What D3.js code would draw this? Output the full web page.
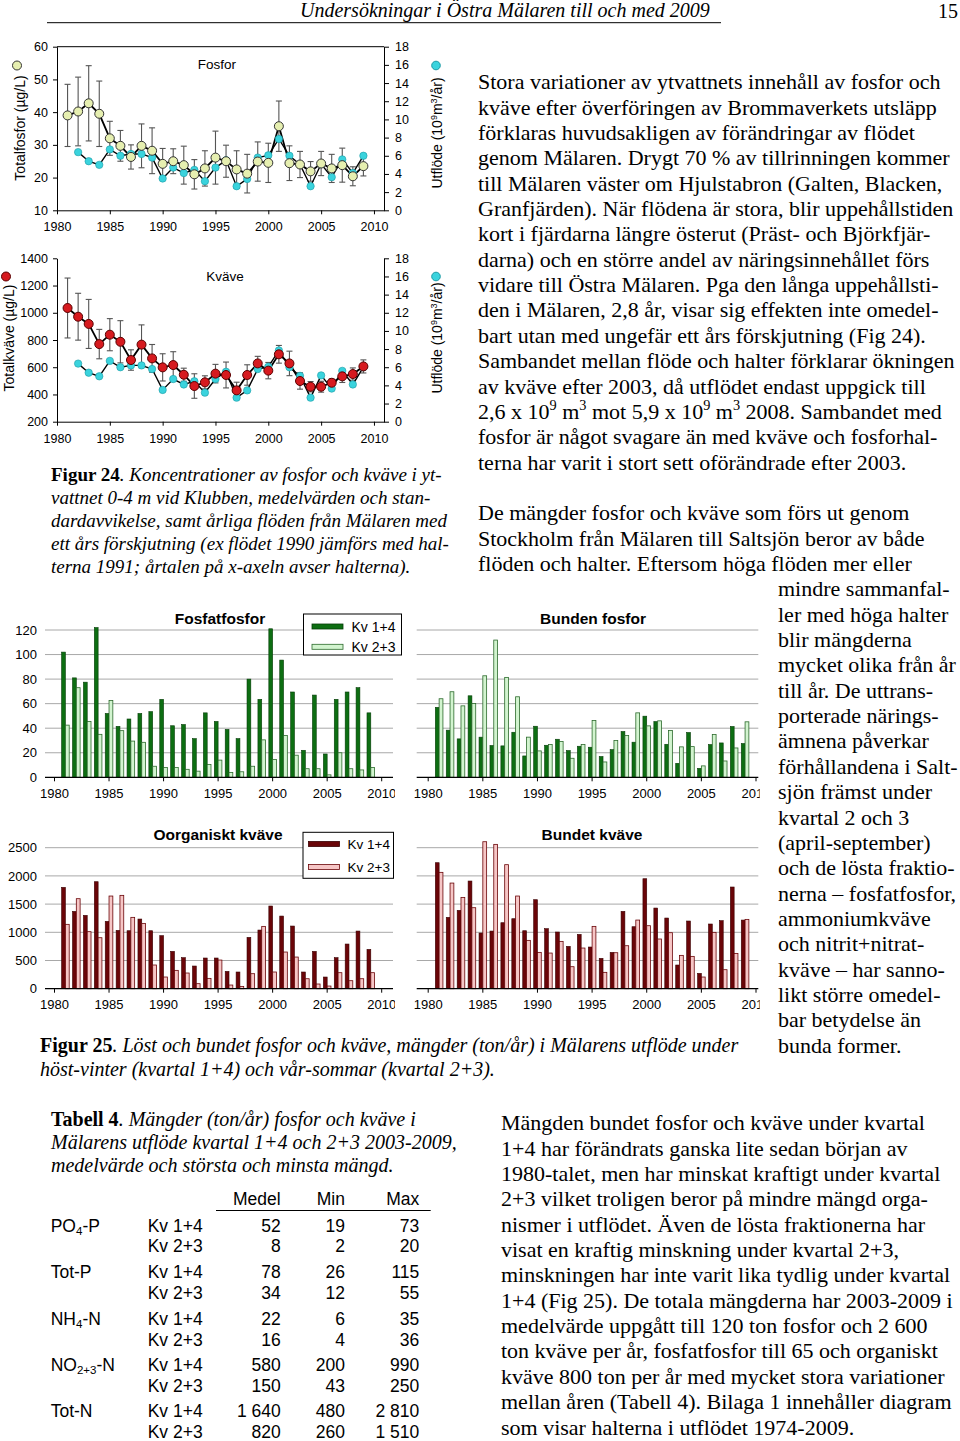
<!DOCTYPE html>
<html><head><meta charset="utf-8">
<script src="https://cdn.jsdelivr.net/npm/d3@7"></script>
<style>body{margin:0;background:#fff}svg{display:block}</style>
</head><body><svg id="c" width="960" height="1441"></svg>
<script>
// ---------------- DATA ----------------
const years = [1981,1982,1983,1984,1985,1986,1987,1988,1989,1990,1991,1992,1993,1994,1995,1996,1997,1998,1999,2000,2001,2002,2003,2004,2005,2006,2007,2008,2009];
const flowYears = [1982,1983,1984,1985,1986,1987,1988,1989,1990,1991,1992,1993,1994,1995,1996,1997,1998,1999,2000,2001,2002,2003,2004,2005,2006,2007,2008,2009];
const totP   = [39,40.2,42.7,39.5,32,29.7,26.3,29.7,28.2,24.2,25,23.8,21,22.8,26.1,25,22.5,21.2,24.9,24.5,35.7,24.4,24,21.9,24.3,22.8,23.8,20.4,23.5];
const totPsd = [9.5,10.5,11.5,10,5.2,4.7,3.7,6.7,7,4.7,3.8,5.8,4.5,5.4,8.1,4.9,5.7,5.9,6,6,7.7,5.3,4,3,3.7,4.3,5.2,2.9,3];
const totN   = [1035,971,918,770,839,787,653,766,665,599,616,545,462,489,553,543,430,543,628,575,695,628,499,457,457,486,533,550,606];
const totNsd = [220,172,180,108,118,155,75,145,102,100,98,48,90,48,68,95,60,75,52,60,65,90,60,38,40,28,45,45,48];
const flow   = [6.4,5.4,5.0,6.7,6.0,6.2,6.2,5.8,3.5,4.7,4.1,4.45,3.2,4.7,5.5,2.65,3.45,5.8,6.05,7.85,6.0,5.05,2.65,5.1,3.65,5.6,4.1,6.0];

const po4K14 = [102,81,77.5,122,52,41.5,47.5,52,53.5,63.5,42,43,31.5,52.5,45.5,39,31.5,80,63.5,121,95.5,69.5,22,67,19,63.5,69.5,73,52.5];
const po4K23 = [42.5,73,45.5,35,62.5,38,29.5,28.5,9,8,8,6.5,5,10.5,14,4,4.5,9,30.5,14.5,34,18,7,7,2,20,7,6,8];
const bpK14  = [57,38.4,31.3,66.4,32.7,25.9,25.6,36.7,17.4,41.6,26.1,31,21.8,25.3,24.5,16.9,22.6,37.3,28.6,49.8,45.4,26.9,11.4,36.5,7.3,26.7,28,41.4,27.5];
const bpK23  = [64,69.7,58.2,60.1,82.7,111.8,81.4,65.6,32.7,21.5,26.7,29.1,15.5,26.7,46.3,12.5,29.9,34,52.5,41.9,46,38.1,24.8,25,9.3,34.8,13.3,23.9,45.2];
const inK14  = [1797,1371,1300,1897,1194,1034,1028,1235,1028,940,662,550,402,544,544,307,296,910,1040,1466,1288,1111,296,662,207,550,792,1022,697];
const inK23  = [1141,1596,1011,904,1643,1655,1265,1158,420,207,325,278,89,183,508,65,41,266,1105,296,650,561,177,83,47,284,142,177,284];
const bnK14  = [2234,1265,1389,1909,987,1022,1170,1241,1028,1578,1064,1005,751,963,739,538,644,1371,1099,1950,1430,1253,420,1200,272,1147,1206,1803,1217];
const bnK23  = [2063,1873,1619,1436,2606,2559,2199,1643,857,644,632,839,390,721,1105,290,638,762,1217,1117,881,993,591,573,207,999,337,626,1229];

const xTicks    = [1980,1985,1990,1995,2000,2005,2010];
const pTicks    = [10,20,30,40,50,60];
const nTicks    = [200,400,600,800,1000,1200,1400];
const flowTicks = [0,2,4,6,8,10,12,14,16,18];
const fpTicks   = [0,20,40,60,80,100,120];
const inTicks   = [0,500,1000,1500,2000,2500];
const seriesNames = ["Kv 1+4","Kv 2+3"];

const tableHead = ["Medel","Min","Max"];
const tableLabels = [["PO","4","-P"],["Tot-P","",""],["NH","4","-N"],["NO","2+3","-N"],["Tot-N","",""]];
const tableMedel = [["52","8"],["78","34"],["22","16"],["580","150"],["1 640","820"]];
const tableMin   = [["19","2"],["26","12"],["6","4"],["200","43"],["480","260"]];
const tableMax   = [["73","20"],["115","55"],["35","36"],["990","250"],["2 810","1 510"]];

const para1 = [
"Stora variationer av ytvattnets innehåll av fosfor och",
"kväve efter överföringen av Brommaverkets utsläpp",
"förklaras huvudsakligen av förändringar av flödet",
"genom Mälaren. Drygt 70 % av tillrinningen kommer",
"till Mälaren väster om Hjulstabron (Galten, Blacken,",
"Granfjärden). När flödena är stora, blir uppehållstiden",
"kort i fjärdarna längre österut (Präst- och Björkfjär-",
"darna) och en större andel av näringsinnehållet förs",
"vidare till Östra Mälaren. Pga den långa uppehållsti-",
"den i Mälaren, 2,8 år, visar sig effekten inte omedel-",
"bart utan med ungefär ett års förskjutning (Fig 24).",
"Sambandet mellan flöde och halter förklarar ökningen",
"av kväve efter 2003, då utflödet endast uppgick till",
"2,6 x 10{^9} m{^3} mot 5,9 x 10{^9} m{^3} 2008. Sambandet med",
"fosfor är något svagare än med kväve och fosforhal-",
"terna har varit i stort sett oförändrade efter 2003."];
const para2wide = [
"De mängder fosfor och kväve som förs ut genom",
"Stockholm från Mälaren till Saltsjön beror av både",
"flöden och halter. Eftersom höga flöden mer eller"];
const para2narrow = [
"mindre sammanfal-","ler med höga halter","blir mängderna","mycket olika från år",
"till år. De uttrans-","porterade närings-","ämnena påverkar","förhållandena i Salt-",
"sjön främst under","kvartal 2 och 3","(april-september)","och de lösta fraktio-",
"nerna – fosfatfosfor,","ammoniumkväve","och nitrit+nitrat-","kväve – har sanno-",
"likt större omedel-","bar betydelse än","bunda former."];
const para3 = [
"Mängden bundet fosfor och kväve under kvartal",
"1+4 har förändrats ganska lite sedan början av",
"1980-talet, men har minskat kraftigt under kvartal",
"2+3 vilket troligen beror på mindre mängd orga-",
"nismer i utflödet. Även de lösta fraktionerna har",
"visat en kraftig minskning under kvartal 2+3,",
"minskningen har inte varit lika tydlig under kvartal",
"1+4 (Fig 25). De totala mängderna har 2003-2009 i",
"medelvärde uppgått till 120 ton fosfor och 2 600",
"ton kväve per år, fosfatfosfor till 65 och organiskt",
"kväve 800 ton per år med mycket stora variationer",
"mellan åren (Tabell 4). Bilaga 1 innehåller diagram",
"som visar halterna i utflödet 1974-2009."];
const cap24 = [
[["Figur 24","b"],[". Koncentrationer av fosfor och kväve i yt-","i"]],
[["vattnet 0-4 m vid Klubben, medelvärden och stan-","i"]],
[["dardavvikelse, samt årliga flöden från Mälaren med","i"]],
[["ett års förskjutning (ex flödet 1990 jämförs med hal-","i"]],
[["terna 1991; årtalen på x-axeln avser halterna).","i"]]];
const cap25 = [
[["Figur 25","b"],[". Löst och bundet fosfor och kväve, mängder (ton/år) i Mälarens utflöde under","i"]],
[["höst-vinter (kvartal 1+4) och vår-sommar (kvartal 2+3).","i"]]];
const capT4 = [
[["Tabell 4","b"],[". Mängder (ton/år) fosfor och kväve i","i"]],
[["Mälarens utflöde kvartal 1+4 och 2+3 2003-2009,","i"]],
[["medelvärde och största och minsta mängd.","i"]]];

// ---------------- DRAW ----------------
const svg = d3.select("#c");
svg.append("rect").attr("width",960).attr("height",1441).attr("fill","#fff");
const SERIF = "'Liberation Serif','Times New Roman',Times,serif";
const SANS  = "'Liberation Sans',Arial,Helvetica,sans-serif";

function richText(x, y, size, family, content, anchor){
  const t = svg.append("text").attr("x",x).attr("y",y)
    .style("font-family",family).style("font-size",size+"px").attr("fill","#000");
  if (anchor) t.attr("text-anchor",anchor);
  let segs = [];
  if (typeof content === "string"){
    const re = /\{([\^_])([^}]*)\}/g; let last = 0, m;
    while ((m = re.exec(content))){ if (m.index>last) segs.push([content.slice(last,m.index),""]); segs.push([m[2], m[1]==="^"?"sup":"sub"]); last = re.lastIndex; }
    if (last < content.length) segs.push([content.slice(last),""]);
  } else segs = content;
  let shift = 0;
  segs.forEach(([s,st])=>{
    const ts = t.append("tspan").text(s);
    if (st==="b") ts.style("font-weight","bold");
    if (st==="i") ts.style("font-style","italic");
    if (st==="sup"||st==="sub"){
      const d = st==="sup" ? -size*0.38 : size*0.22;
      ts.attr("dy", d - shift).style("font-size",(size*0.65)+"px"); shift = d;
    } else if (shift!==0){ ts.attr("dy",-shift); shift = 0; }
  });
  return t;
}

// Header
richText(300, 17, 20, SERIF, [["Undersökningar i Östra Mälaren till och med 2009","i"]]);
richText(958, 18, 20, SERIF, "15", "end");
svg.append("line").attr("x1",47).attr("x2",721).attr("y1",22.7).attr("y2",22.7).attr("stroke","#000").attr("stroke-width",1);

// ---------- Line charts ----------
function lineChart(cfg){
  const g = svg.append("g");
  const x = d3.scaleLinear().domain([1980,2010.95]).range([57,384]);
  const yL = d3.scaleLinear().domain(cfg.lDomain).range([cfg.bottom,cfg.top]);
  const yR = d3.scaleLinear().domain([0,18]).range([cfg.bottom,cfg.top]);
  const styleAxis = sel => { sel.selectAll("path,line").attr("stroke","#000").attr("stroke-width",1);
    sel.selectAll("text").style("font-family",SANS).style("font-size","12.5px").attr("fill","#000"); };
  g.append("g").attr("transform","translate(57,0)")
    .call(d3.axisLeft(yL).tickValues(cfg.lTicks).tickFormat(d3.format("d")).tickSize(4).tickSizeOuter(0).tickPadding(5)).call(styleAxis);
  g.append("g").attr("transform","translate(384,0)")
    .call(d3.axisRight(yR).tickValues(flowTicks).tickSize(5).tickSizeOuter(0).tickPadding(6)).call(styleAxis);
  g.append("g").attr("transform",`translate(0,${cfg.bottom})`)
    .call(d3.axisBottom(x).tickValues(xTicks).tickFormat(d3.format("d")).tickSize(4).tickSizeOuter(0).tickPadding(8)).call(styleAxis);
  if (cfg.topLine) g.append("line").attr("x1",57).attr("x2",384).attr("y1",cfg.top).attr("y2",cfg.top).attr("stroke","#000");
  // error bars
  const eb = g.append("g").attr("stroke","#555").attr("stroke-width",1.1);
  years.forEach((yr,i)=>{
    const cx = x(yr), y1 = yL(cfg.vals[i]-cfg.sd[i]), y2 = yL(cfg.vals[i]+cfg.sd[i]);
    eb.append("line").attr("x1",cx).attr("x2",cx).attr("y1",y1).attr("y2",y2);
    eb.append("line").attr("x1",cx-3).attr("x2",cx+3).attr("y1",y1).attr("y2",y1);
    eb.append("line").attr("x1",cx-3).attr("x2",cx+3).attr("y1",y2).attr("y2",y2);
  });
  const lnF = d3.line().x((d,i)=>x(flowYears[i])).y(d=>yR(d));
  const lnC = d3.line().x((d,i)=>x(years[i])).y(d=>yL(d));
  g.append("path").attr("d",lnF(flow)).attr("fill","none").attr("stroke","#000").attr("stroke-width",1.4);
  g.append("path").attr("d",lnC(cfg.vals)).attr("fill","none").attr("stroke","#000").attr("stroke-width",1.8);
  g.selectAll(".fc").data(flow).enter().append("circle").attr("cx",(d,i)=>x(flowYears[i])).attr("cy",d=>yR(d))
    .attr("r",3.7).attr("fill","#3ad3dd").attr("stroke","#1a9aa5").attr("stroke-width",0.6);
  g.selectAll(".cc").data(cfg.vals).enter().append("circle").attr("cx",(d,i)=>x(years[i])).attr("cy",d=>yL(d))
    .attr("r",4.5).attr("fill",cfg.fill).attr("stroke",cfg.stroke).attr("stroke-width",1);
  // titles
  g.append("text").attr("x",cfg.titleX).attr("y",cfg.titleY).attr("text-anchor","middle")
    .style("font-family",SANS).style("font-size","13.5px").text(cfg.title);
  g.append("text").attr("transform",`translate(${cfg.lTitleX},${cfg.lTitleY}) rotate(-90)`).attr("text-anchor","middle")
    .style("font-family",SANS).style("font-size","14px").text(cfg.lTitle);
  g.append("circle").attr("cx",cfg.lMarkX).attr("cy",cfg.markY).attr("r",4.5).attr("fill",cfg.fill).attr("stroke",cfg.stroke);
  const rt = g.append("text").attr("transform",`translate(442,${cfg.rTitleY}) rotate(-90)`).attr("text-anchor","middle")
    .style("font-family",SANS).style("font-size","14px");
  rt.append("tspan").text("Utflöde (10");
  rt.append("tspan").text("9").attr("dy",-5).style("font-size","9px");
  rt.append("tspan").text("m").attr("dy",5);
  rt.append("tspan").text("3").attr("dy",-5).style("font-size","9px");
  rt.append("tspan").text("/år)").attr("dy",5);
  g.append("circle").attr("cx",436).attr("cy",cfg.markY).attr("r",4.3).attr("fill","#3ad3dd").attr("stroke","#1a9aa5");
}
lineChart({top:46.7,bottom:210.3,lDomain:[10,60],lTicks:pTicks,vals:totP,sd:totPsd,fill:"#e6efb0",stroke:"#333",
  topLine:true,title:"Fosfor",titleX:217,titleY:69,lTitle:"Totalfosfor (µg/L)",lTitleX:25,lTitleY:128,lMarkX:17,markY:65.5,rTitleY:133});
lineChart({top:258.3,bottom:421.7,lDomain:[200,1400],lTicks:nTicks,vals:totN,sd:totNsd,fill:"#d61a1f",stroke:"#5a0000",
  topLine:false,title:"Kväve",titleX:225,titleY:281,lTitle:"Totalkväve (µg/L)",lTitleX:14,lTitleY:338,lMarkX:6,markY:276.5,rTitleY:338});

// ---------- Bar charts ----------
function barChart(cfg){
  const g = svg.append("g");
  const x = d3.scaleLinear().domain([1980,2010]).range(cfg.xr);
  const y = d3.scaleLinear().domain(cfg.yDomain).range([cfg.bottom,cfg.top]);
  const bw = 3.8;
  cfg.ticks.slice(1).forEach(t=>g.append("line").attr("x1",cfg.gx[0]).attr("x2",cfg.gx[1]).attr("y1",y(t)).attr("y2",y(t)).attr("stroke","#a8a8a8").attr("stroke-width",1));
  if (cfg.yLabels) cfg.ticks.forEach(t=>g.append("text").attr("x",37).attr("y",y(t)+4.6).attr("text-anchor","end")
      .style("font-family",SANS).style("font-size","13px").text(t));
  g.selectAll(".d").data(cfg.a).enter().append("rect").attr("x",(d,i)=>x(years[i])-bw).attr("width",bw)
    .attr("y",d=>y(d)).attr("height",d=>y(0)-y(d)).attr("fill",cfg.dark).attr("stroke",cfg.darkStroke).attr("stroke-width",0.6);
  g.selectAll(".l").data(cfg.b).enter().append("rect").attr("x",(d,i)=>x(years[i])).attr("width",bw)
    .attr("y",d=>y(d)).attr("height",d=>y(0)-y(d)).attr("fill",cfg.light).attr("stroke",cfg.lightStroke).attr("stroke-width",0.8);
  g.append("line").attr("x1",cfg.gx[0]).attr("x2",cfg.gx[1]).attr("y1",y(0)).attr("y2",y(0)).attr("stroke","#000").attr("stroke-width",1.2);
  const clipId = "clip"+cfg.id;
  svg.append("clipPath").attr("id",clipId).append("rect").attr("x",cfg.gx[0]-30).attr("y",y(0)).attr("width",cfg.clipW).attr("height",30);
  const xl = g.append("g").attr("clip-path",`url(#${clipId})`);
  xTicks.forEach(t=>{
    xl.append("line").attr("x1",x(t)).attr("x2",x(t)).attr("y1",y(0)).attr("y2",y(0)+4).attr("stroke","#000");
    xl.append("text").attr("x",x(t)).attr("y",y(0)+20.5).attr("text-anchor","middle")
      .style("font-family",SANS).style("font-size","13px").text(t);
  });
  g.append("text").attr("x",cfg.titleX).attr("y",cfg.titleY).attr("text-anchor","middle")
    .style("font-family",SANS).style("font-size","15.5px").style("font-weight","bold").text(cfg.title);
  if (cfg.legend){
    const L = cfg.legend;
    g.append("rect").attr("x",L.x).attr("y",L.y).attr("width",L.w).attr("height",L.h).attr("fill","#fff").attr("stroke","#000").attr("stroke-width",1);
    seriesNames.forEach((n,i)=>{
      const yy = L.y + L.y0 + i*L.gap;
      g.append("rect").attr("x",L.x+L.sx).attr("y",yy-2.5).attr("width",31).attr("height",5)
        .attr("fill",i?cfg.light:cfg.dark).attr("stroke",i?cfg.lightStroke:cfg.darkStroke).attr("stroke-width",0.8);
      g.append("text").attr("x",L.x+L.tx).attr("y",yy+5).style("font-family",SANS).style("font-size",L.fs+"px").text(n);
    });
  }
}
const GREEN = {dark:"#0d6e12",darkStroke:"#063d08",light:"#d2f4cf",lightStroke:"#2c6a2c"};
const RED   = {dark:"#6a0508",darkStroke:"#3a0002",light:"#f6c6c6",lightStroke:"#6a0508"};
barChart(Object.assign({id:1,xr:[54.5,381.7],gx:[45,393],clipW:380,top:630,bottom:777.3,yDomain:[0,120],ticks:fpTicks,a:po4K14,b:po4K23,
  yLabels:true,title:"Fosfatfosfor",titleX:220,titleY:624,legend:{x:303.5,y:614,w:98,h:41,y0:12.5,gap:20.3,sx:8.5,tx:48,fs:14}},GREEN));
barChart(Object.assign({id:2,xr:[428.2,756],gx:[416.7,758.3],clipW:373,top:630,bottom:777.3,yDomain:[0,120],ticks:fpTicks,a:bpK14,b:bpK23,
  yLabels:false,title:"Bunden fosfor",titleX:593,titleY:624},GREEN));
barChart(Object.assign({id:3,xr:[54.5,381.7],gx:[45,393],clipW:380,top:847.7,bottom:988.7,yDomain:[0,2500],ticks:inTicks,a:inK14,b:inK23,
  yLabels:true,title:"Oorganiskt kväve",titleX:218,titleY:840,legend:{x:303,y:832.3,w:90.5,h:46,y0:11.7,gap:23,sx:5.5,tx:44.5,fs:13.5}},RED));
barChart(Object.assign({id:4,xr:[428.2,756],gx:[416.7,758.3],clipW:373,top:847.7,bottom:988.7,yDomain:[0,2500],ticks:inTicks,a:bnK14,b:bnK23,
  yLabels:false,title:"Bundet kväve",titleX:592,titleY:840},RED));

// ---------- Text blocks ----------
para1.forEach((l,i)=>richText(478, 89.3 + i*25.35, 22, SERIF, l));
para2wide.forEach((l,i)=>richText(478, 520.3 + i*25.35, 22, SERIF, l));
para2narrow.forEach((l,i)=>richText(778, 520.3 + (i+3)*25.35, 22, SERIF, l));
para3.forEach((l,i)=>richText(501, 1130.3 + i*25.35, 22, SERIF, l));
cap24.forEach((l,i)=>richText(51, 481 + i*23, 19, SERIF, l));
cap25.forEach((l,i)=>richText(40, 1051.5 + i*24, 20, SERIF, l));
capT4.forEach((l,i)=>richText(51, 1125.5 + i*23, 20, SERIF, l));

// ---------- Table ----------
const colX = [280.7, 345, 419.3];
tableHead.forEach((h,i)=>svg.append("text").attr("x",colX[i]).attr("y",1205).attr("text-anchor","end")
  .style("font-family",SANS).style("font-size","17.5px").text(h));
svg.append("line").attr("x1",216).attr("x2",430.7).attr("y1",1210.5).attr("y2",1210.5).attr("stroke","#000").attr("stroke-width",1);
const rowY = [1231.7,1252.3,1278.3,1299,1325,1345.7,1371.3,1392,1417.3,1438];
tableLabels.forEach((lab,r)=>{
  const t = svg.append("text").attr("x",50.7).attr("y",rowY[r*2]).style("font-family",SANS).style("font-size","17.5px");
  t.append("tspan").text(lab[0]);
  if (lab[1]){ t.append("tspan").text(lab[1]).attr("dy",3).style("font-size","11.5px"); t.append("tspan").text(lab[2]).attr("dy",-3); }
  [0,1].forEach(k=>{
    const yy = rowY[r*2+k];
    svg.append("text").attr("x",147.7).attr("y",yy).style("font-family",SANS).style("font-size","17.5px").text(seriesNames[k]);
    [tableMedel,tableMin,tableMax].forEach((arr,c)=>svg.append("text").attr("x",colX[c]).attr("y",yy).attr("text-anchor","end")
      .style("font-family",SANS).style("font-size","17.5px").text(arr[r][k]));
  });
});
</script></body></html>
